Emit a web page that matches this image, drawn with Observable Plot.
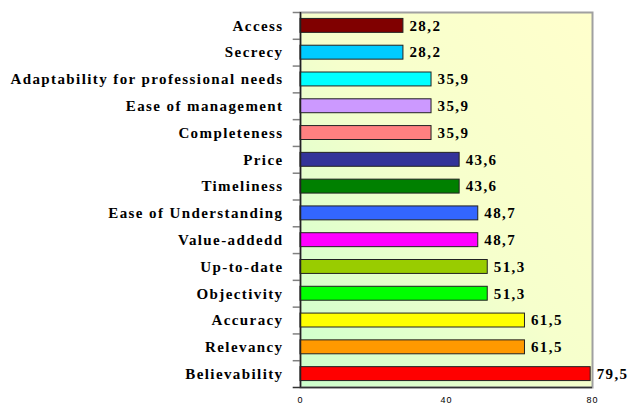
<!DOCTYPE html>
<html><head><meta charset="utf-8">
<script src="https://cdn.jsdelivr.net/npm/d3@7"></script>
<script src="https://cdn.jsdelivr.net/npm/@observablehq/plot@0.6"></script>
<style>
body{margin:0;background:#fff}
#chart svg [aria-label="y-axis tick label"] text,
#chart svg [aria-label="text"] text{font-family:"Liberation Serif","Times New Roman",serif !important;font-weight:bold;font-size:15px;letter-spacing:1.4px}
#chart svg [aria-label="x-axis tick label"] text{font-family:"Liberation Sans",Arial,sans-serif !important;font-size:9px;letter-spacing:1px}
</style>
</head><body><div id="chart"></div>
<script>
const categories = ["Access","Secrecy","Adaptability for professional needs","Ease of management","Completeness","Price","Timeliness","Ease of Understanding","Value-addedd","Up-to-date","Objectivity","Accuracy","Relevancy","Believability"];
const values = [28.2,28.2,35.9,35.9,35.9,43.6,43.6,48.7,48.7,51.3,51.3,61.5,61.5,79.5];
const colors = ["#800000","#00ccff","#00ffff","#cc99ff","#ff8080","#333399","#008000","#3366ff","#ff00ff","#99cc00","#00ff00","#ffff00","#ff9900","#ff0000"];
const xTicks = [0,40,80];

const data = categories.map((c,i)=>({category:c, value:values[i], color:colors[i]}));
const W=633, H=405, mt=12, mb=18, ml=300, mr=41;
const step = (H-mt-mb)/categories.length;

const chart = Plot.plot({
  width: W, height: H,
  marginLeft: ml, marginRight: mr, marginTop: mt, marginBottom: mb,
  style: {background:"transparent", overflow:"visible"},
  x: {domain:[0,80]},
  y: {domain: categories, paddingInner:0.48, paddingOuter:0.24, round:false},
  color: {type:"identity"},
  marks: [
    Plot.frame({fill:"url(#plotbg)", stroke:"#a0a0a0", strokeWidth:2}),
    Plot.barX(data, {y:"category", x:"value", fill:"color", stroke:"#222", strokeWidth:1}),
    Plot.text(data, {y:"category", x:"value", text:d=>d.value.toFixed(1).replace(".",","), textAnchor:"start", dx:6, fill:"#000"}),
    Plot.ruleY(categories, {y:d=>d, x1:-2, x2:0, dy:-step/2, stroke:"#808080", strokeWidth:1.5}),
    Plot.ruleY([categories[categories.length-1]], {y:d=>d, x1:-2, x2:80, dy:step/2, stroke:"#333", strokeWidth:1.5}),
    Plot.ruleX([0], {stroke:"#222", strokeWidth:1.5}),
    Plot.axisY({tickSize:0, tickPadding:17, label:null, fill:"#000"}),
    Plot.axisX({ticks:xTicks, tickSize:0, tickPadding:9, label:null, fill:"#000"})
  ]
});
d3.select(chart).insert("defs", ":first-child").html(
  '<linearGradient id="plotbg" x1="0" y1="1" x2="1" y2="0">' +
  '<stop offset="0" stop-color="#ccffcc"/><stop offset="0.5" stop-color="#f6ffcc"/><stop offset="1" stop-color="#ffffcc"/>' +
  '</linearGradient>');
document.getElementById("chart").appendChild(chart);
</script>
</body></html>
